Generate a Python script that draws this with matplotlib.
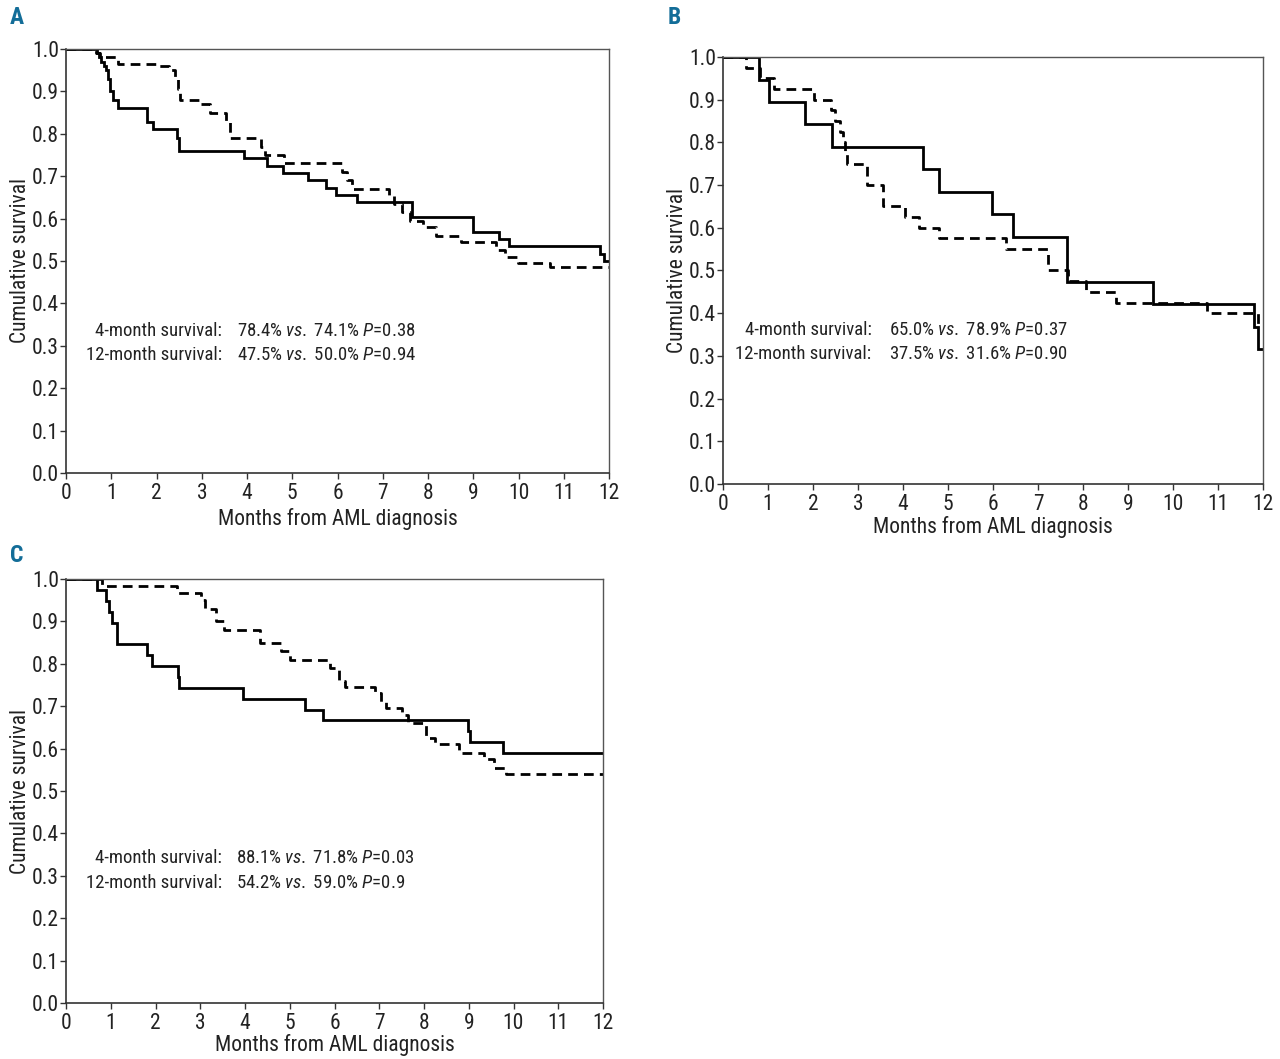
import matplotlib
matplotlib.use("Agg")
import matplotlib.pyplot as plt
from matplotlib import font_manager

names = sorted({f.name for f in font_manager.fontManager.ttflist})
FONT = None
for cand in ["Liberation Sans Narrow", "Roboto Condensed", "Open Sans Condensed", "DejaVu Sans Condensed"]:
    if cand in names:
        FONT = cand
        break
if FONT is None:
    narrow = [n for n in names if ("Condensed" in n or "Narrow" in n)]
    if narrow:
        FONT = narrow[0]
    elif "Roboto" in names:
        FONT = "Roboto"
    else:
        FONT = "Liberation Sans"

plt.rcParams['font.family'] = [FONT, 'DejaVu Sans']
plt.rcParams['mathtext.fontset'] = 'custom'
plt.rcParams['mathtext.rm'] = FONT
plt.rcParams['mathtext.it'] = FONT + ':italic'

# ---------------- data (months, survival) ----------------
# Panel A
a_solid_t = [0, 0.69, 0.74, 0.78, 0.83, 0.89, 0.92, 0.98, 1.04, 1.15, 1.80, 1.92, 2.45, 2.50, 3.94,
             4.44, 4.80, 5.34, 5.75, 5.97, 6.43, 7.64, 8.99, 9.58, 9.78, 11.80, 11.90, 12.0]
a_solid_s = [1.0, 0.99, 0.98, 0.97, 0.96, 0.95, 0.93, 0.90, 0.88, 0.862, 0.828, 0.811, 0.79, 0.759, 0.742,
             0.724, 0.707, 0.69, 0.672, 0.655, 0.638, 0.604, 0.569, 0.552, 0.535, 0.517, 0.50, 0.50]
a_dash_t = [0, 0.66, 0.75, 1.14, 2.05, 2.27, 2.40, 2.47, 2.52, 2.95, 3.18, 3.54, 3.63, 4.30, 4.40,
            4.82, 6.10, 6.20, 6.33, 7.14, 7.25, 7.42, 7.60, 7.90, 8.17, 8.73, 9.50, 9.70, 9.99, 10.70, 12.0]
a_dash_s = [1.0, 0.99, 0.98, 0.965, 0.96, 0.95, 0.93, 0.905, 0.88, 0.87, 0.85, 0.83, 0.79, 0.77, 0.75,
            0.73, 0.71, 0.69, 0.67, 0.655, 0.635, 0.615, 0.595, 0.58, 0.56, 0.545, 0.525, 0.51, 0.495, 0.485, 0.485]

# Panel B
b_solid_t = [0, 0.80, 1.02, 1.83, 2.43, 4.45, 4.79, 5.98, 6.44, 7.64, 9.56, 11.80, 11.89, 12.0]
b_solid_s = [1.0, 0.947, 0.895, 0.842, 0.789, 0.737, 0.684, 0.632, 0.579, 0.474, 0.421, 0.368, 0.316, 0.316]
b_dash_t = [0, 0.51, 0.82, 1.13, 2.03, 2.39, 2.48, 2.60, 2.66, 2.72, 2.75, 3.20, 3.55, 4.04, 4.36,
            4.80, 6.28, 7.22, 7.67, 8.07, 8.74, 10.75, 11.88, 12.0]
b_dash_s = [1.0, 0.975, 0.95, 0.925, 0.90, 0.875, 0.85, 0.825, 0.80, 0.775, 0.75, 0.70, 0.65, 0.625, 0.60,
            0.575, 0.55, 0.50, 0.475, 0.45, 0.425, 0.40, 0.375, 0.375]

# Panel C
c_solid_t = [0, 0.70, 0.90, 0.96, 1.02, 1.14, 1.80, 1.92, 2.50, 2.53, 3.96, 5.33, 5.74, 8.99, 9.02, 9.77, 12.0]
c_solid_s = [1.0, 0.974, 0.949, 0.923, 0.897, 0.846, 0.821, 0.795, 0.769, 0.744, 0.718, 0.692, 0.667, 0.641, 0.615, 0.590, 0.590]
c_dash_t = [0, 0.80, 2.48, 3.01, 3.10, 3.35, 3.53, 4.33, 4.80, 5.01, 5.90, 6.10, 6.23, 6.91, 7.05, 7.14,
            7.50, 7.64, 8.05, 8.24, 8.79, 9.33, 9.56, 9.83, 12.0]
c_dash_s = [1.0, 0.983, 0.966, 0.95, 0.93, 0.90, 0.88, 0.85, 0.83, 0.81, 0.79, 0.76, 0.745, 0.73, 0.71, 0.695,
            0.68, 0.66, 0.625, 0.61, 0.59, 0.575, 0.555, 0.54, 0.54]

panel_letters = ["A", "B", "C"]
label_lines = ["4-month survival:", "12-month survival:"]
values_A = [("78.4%", "74.1%", "0.38"), ("47.5%", "50.0%", "0.94")]
values_B = [("65.0%", "78.9%", "0.37"), ("37.5%", "31.6%", "0.90")]
values_C = [("88.1%", "71.8%", "0.03"), ("54.2%", "59.0%", "0.9")]

x_ticks = list(range(0, 13))
y_ticks = [0.0, 0.1, 0.2, 0.3, 0.4, 0.5, 0.6, 0.7, 0.8, 0.9, 1.0]

W, H = 1280, 1059
fig = plt.figure(figsize=(W / 100, H / 100), dpi=100)


def px_axes(l, r, t, b):
    return fig.add_axes([l / W, 1 - b / H, (r - l) / W, (b - t) / H])


LETTER_COLOR = "#136d98"
TICK_FS = 15.5
LABEL_FS = 15.5
ANN_FS = 13.5
TXT = '#222222'


def draw_panel(ax, solid, dash, vals, txt_pos, letter, letter_xy, xlabelpad):
    ax.step(solid[0], solid[1], where='post', color='black', lw=2.0, solid_joinstyle='miter')
    ax.step(dash[0], dash[1], where='post', color='black', lw=2.0, linestyle=(0, (3.5, 2.2)))
    ax.set_xlim(0, 12)
    ax.set_ylim(0, 1.0)
    ax.set_xticks(x_ticks)
    ax.set_yticks(y_ticks)
    ax.set_yticklabels([f"{v:.1f}" for v in y_ticks])
    ax.tick_params(axis='both', direction='out', length=4, width=1, labelsize=TICK_FS,
                   colors='#333333', labelcolor=TXT)
    ax.tick_params(axis='y', pad=1)
    ax.tick_params(axis='x', pad=3)
    for s in ['left', 'bottom']:
        ax.spines[s].set_color('#333333')
        ax.spines[s].set_linewidth(1.2)
    for s in ['top', 'right']:
        ax.spines[s].set_color('#555555')
        ax.spines[s].set_linewidth(1.0)
    ax.set_xlabel("Months from AML diagnosis", fontsize=LABEL_FS, labelpad=xlabelpad, color=TXT)
    ax.set_ylabel("Cumulative survival", fontsize=LABEL_FS, labelpad=1, color=TXT)
    lx, vx, y1, y2 = txt_pos
    for lab, (v1, v2, p), yy in zip(label_lines, vals, (y1, y2)):
        ax.text(lx, yy, lab, transform=ax.transAxes, ha='right', va='center', fontsize=ANN_FS, color=TXT)
        s = v1 + r" $\it{vs.}$ " + v2 + r" $\it{P}$=" + p
        ax.text(vx, yy, s, transform=ax.transAxes, ha='left', va='center', fontsize=ANN_FS, color=TXT)
    fig.text(letter_xy[0] / W, 1 - letter_xy[1] / H, letter, fontsize=17, fontweight='bold',
             color=LETTER_COLOR, ha='left', va='center')


axA = px_axes(66, 609, 49, 473)
draw_panel(axA, (a_solid_t, a_solid_s), (a_dash_t, a_dash_s), values_A,
           (0.287, 0.315, 0.335, 0.278), panel_letters[0], (10, 17), 3)
axB = px_axes(723, 1263, 57, 484)
draw_panel(axB, (b_solid_t, b_solid_s), (b_dash_t, b_dash_s), values_B,
           (0.275, 0.307, 0.361, 0.304), panel_letters[1], (668, 18), 1)
axC = px_axes(66, 603, 579, 1003)
draw_panel(axC, (c_solid_t, c_solid_s), (c_dash_t, c_dash_s), values_C,
           (0.290, 0.317, 0.342, 0.283), panel_letters[2], (10, 555), 0)

fig.savefig("out.png", dpi=100)
